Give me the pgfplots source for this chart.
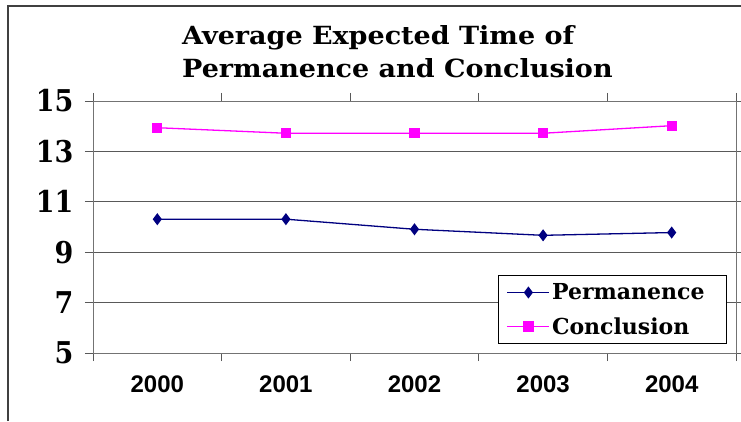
\documentclass[border=0pt]{standalone}
\usepackage{pgfplots}
\pgfplotsset{compat=1.18}
\usepackage{fontspec}
\setmainfont{DejaVu Serif}
\newfontfamily\titlefont{DejaVu Serif}[FakeStretch=1.08]
\newfontfamily\tickfont{DejaVu Serif}[FakeStretch=0.9]
\newfontfamily\arial{Liberation Sans}
\definecolor{navyc}{RGB}{0,0,128}
\definecolor{magc}{RGB}{255,0,255}
\pgfplotstableread{
x y
0 10.31
1 10.31
2 9.91
3 9.67
4 9.78
}\perm
\pgfplotstableread{
x y
0 13.94
1 13.72
2 13.72
3 13.72
4 14.02
}\concl
\begin{document}
\begin{tikzpicture}
\useasboundingbox (0pt,0pt) rectangle (741pt,421pt);
\draw[line width=1.3pt, black!75] (8pt,0pt) -- (8pt,415pt) -- (741pt,415pt);
\node[font=\titlefont\bfseries\fontsize{25}{33}\selectfont, align=left, anchor=west, inner sep=0pt] at (182pt,369.5pt) {Average Expected Time of\\Permanence and Conclusion};
\begin{axis}[at={(93pt,68pt)}, anchor=south west, scale only axis,
 width=643pt, height=252pt,
 xmin=-0.5, xmax=4.5, ymin=5, ymax=15,
 xtick={-0.5,0.5,1.5,2.5,3.5,4.5},
 x tick label as interval,
 xticklabels={2000,2001,2002,2003,2004},
 ytick={5,7,9,11,13,15},
 ymajorgrids, grid style={black!65, line width=0.8pt},
 axis line style={black!55, line width=1pt},
 tick align=outside, major tick length=8pt,
 tick style={black!65, line width=1pt},
 /pgf/number format/assume math mode=true,
 yticklabel style={font=\tickfont\bfseries\fontsize{30}{30}\selectfont, xshift=-8pt},
 xticklabel style={font=\arial\bfseries\fontsize{24}{24}\selectfont, yshift=-11pt},
 legend style={at={(axis description cs:1,0)}, anchor=south east, xshift=-9pt, yshift=9pt,
   draw=black, line width=1pt, font=\bfseries\fontsize{22}{22}\selectfont,
   row sep=12pt, inner xsep=8pt, inner ysep=6pt},
 legend cell align=left,
 legend image code/.code={\draw[mark repeat=2,mark phase=2,#1] plot coordinates {(0pt,0pt) (21pt,0pt) (42pt,0pt)};},
]
\addplot[navyc, line width=1.3pt, mark=diamond*, mark size=5pt] table[x=x,y=y] {\perm};
\addlegendentry{Permanence\hspace*{12pt}}
\addplot[magc, line width=1.3pt, mark=square*, mark size=4.5pt] table[x=x,y=y] {\concl};
\addlegendentry{Conclusion}
\end{axis}
\end{tikzpicture}
\end{document}
